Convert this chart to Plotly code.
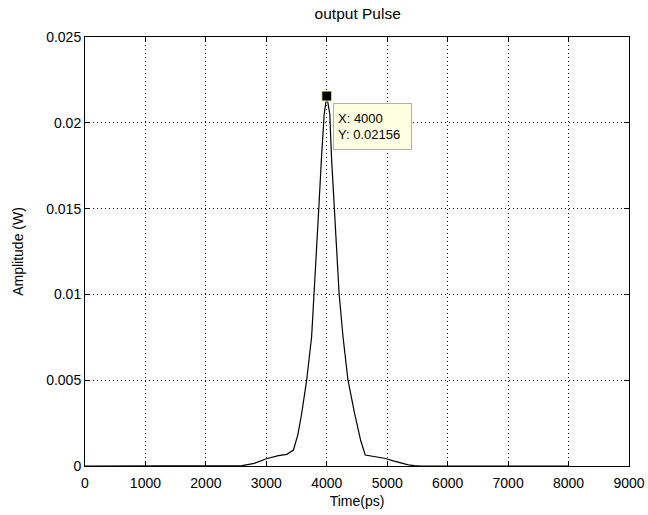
import plotly.graph_objects as go

# Data
time_ps = [0, 1000, 2000, 2500, 2600, 2800, 3000, 3200, 3340, 3448, 3520, 3585, 3667,
           3749, 3793, 3831, 3869, 3913, 3957, 4000, 4050, 4078, 4122, 4160, 4204,
           4269, 4351, 4460, 4560, 4636, 4800, 4953, 5100, 5227, 5350, 5450, 5550,
           6000, 7000, 8000]
amplitude_w = [0, 0, 0, 0, 0.00002, 0.00015, 0.00042, 0.0006, 0.00068, 0.00093, 0.0018,
               0.00306, 0.0050, 0.00752, 0.01004, 0.01237, 0.01508, 0.0180, 0.0205,
               0.02156, 0.0205, 0.0180, 0.01508, 0.01237, 0.01004, 0.00752, 0.0050,
               0.00306, 0.0015, 0.00064, 0.00056, 0.00045, 0.0003, 0.00016, 0.00007,
               0.00002, 0, 0, 0, 0]

tip_x = [4000]
tip_y = [0.02156]

x_ticks = [0, 1000, 2000, 3000, 4000, 5000, 6000, 7000, 8000, 9000]
y_ticks = [0, 0.005, 0.01, 0.015, 0.02, 0.025]
y_tick_text = ["0", "0.005", "0.01", "0.015", "0.02", "0.025"]

FONT = "Liberation Sans, Arial, sans-serif"

fig = go.Figure()
fig.add_trace(go.Scatter(x=time_ps, y=amplitude_w, mode="lines",
                         line=dict(color="black", width=1.2), showlegend=False,
                         hoverinfo="skip"))
fig.add_trace(go.Scatter(x=tip_x, y=tip_y, mode="markers",
                         marker=dict(symbol="square", size=10, color="black",
                                     line=dict(color="#FFFFB0", width=1)),
                         showlegend=False, hoverinfo="skip"))

fig.add_annotation(x=tip_x[0], y=tip_y[0], xref="x", yref="y",
                   text=f"X: {tip_x[0]}<br>Y: {tip_y[0]}",
                   showarrow=False, xanchor="left", yanchor="top", align="left",
                   valign="middle", width=69, height=37,
                   xshift=6, yshift=-7, bgcolor="#FFFFE1", bordercolor="#B0B0B0",
                   borderwidth=1, borderpad=4,
                   font=dict(family=FONT, size=13, color="black"))

axis_common = dict(showline=True, linecolor="black", linewidth=1, mirror="ticks",
                   ticks="inside", ticklen=5, tickcolor="black", tickwidth=1,
                   showgrid=True, gridcolor="black", gridwidth=1, griddash="1px,3px",
                   zeroline=False, automargin=False,
                   tickfont=dict(family=FONT, size=14, color="black"))

fig.update_xaxes(range=[0, 9000], tickvals=x_ticks, ticktext=[str(v) for v in x_ticks],
                 ticklabelstandoff=4,
                 title=dict(text="Time(ps)", font=dict(family=FONT, size=14, color="black"),
                            standoff=6),
                 **axis_common)
fig.update_yaxes(range=[0, 0.025], tickvals=y_ticks, ticktext=y_tick_text,
                 title=dict(text="Amplitude (W)", font=dict(family=FONT, size=14, color="black"),
                            standoff=19),
                 **axis_common)

fig.update_layout(
    width=648, height=515,
    margin=dict(l=85, r=19, t=37, b=49),
    paper_bgcolor="white", plot_bgcolor="white",
    title=dict(text="output Pulse", x=0.552, xanchor="center", y=1 - 14 / 515,
               yanchor="middle", yref="container",
               font=dict(family=FONT, size=15.5, color="black")),
)

fig.write_html("out.html", config={"displayModeBar": False},
               post_script="document.body.style.margin='0';")
